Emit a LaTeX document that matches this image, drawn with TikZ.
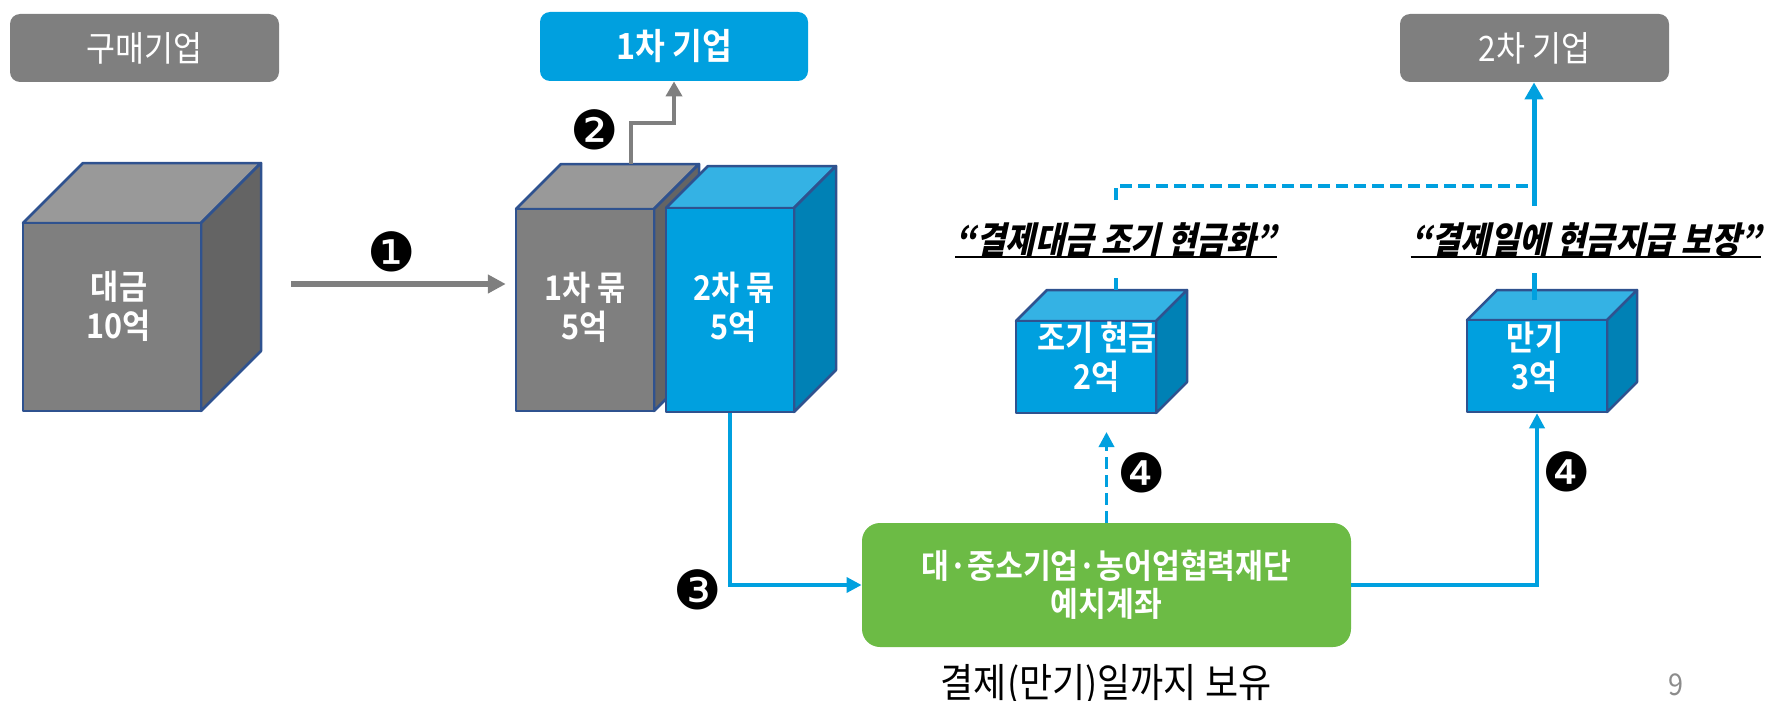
\documentclass[tikz,border=0pt]{standalone}
\usepackage{fontspec}
\setmainfont{Noto Sans CJK KR}[BoldFont={Noto Sans CJK KR Bold}, FakeStretch=0.9]
\newfontfamily\slb{Noto Sans CJK KR Black}[FakeSlant=0.22, FakeStretch=0.88]
\newfontfamily\dv{DejaVu Sans}
\usetikzlibrary{arrows.meta,fit}
\definecolor{cgray}{RGB}{127,127,127}
\definecolor{cgraytop}{RGB}{153,153,153}
\definecolor{cgrayside}{RGB}{100,100,100}
\definecolor{cblue}{RGB}{0,160,223}
\definecolor{cbluetop}{RGB}{52,178,228}
\definecolor{cblueside}{RGB}{0,129,181}
\definecolor{cedge}{RGB}{47,82,143}
\definecolor{cgreen}{RGB}{108,187,69}
\definecolor{cpage}{RGB}{140,140,140}
\tikzset{
  cubeedge/.style={draw=cedge, line width=1.25pt, line join=round},
  topbox/.style={rounded corners=5pt, inner sep=0pt, text=white, font=\fontsize{17.5}{20}\selectfont},
  cubetext/.style={text=white, font=\bfseries\fontsize{17}{19.5}\selectfont, align=center, inner sep=0pt},
  smalltext/.style={text=white, font=\bfseries\fontsize{17}{19.5}\selectfont, align=center, inner sep=0pt},
  slogan/.style={fill=white, inner xsep=0pt, inner ysep=0pt, minimum height=33.5pt, font=\slb\fontsize{18.2}{20}\selectfont},
  num/.style={inner sep=0pt, font=\dv\fontsize{27}{27}\selectfont},
  garrow/.style={draw=cgray, line width=2.75pt, -{Triangle[length=9pt,width=9pt]}},
  garrowb/.style={draw=cgray, line width=2pt, -{Triangle[length=7.5pt,width=8pt]}},
  barrow/.style={draw=cblue, line width=1.75pt, -{Triangle[length=7.5pt,width=7.5pt]}},
  barrowthick/.style={draw=cblue, line width=2.5pt, -{Triangle[length=8.5pt,width=9pt]}},
  bdash/.style={draw=cblue, line width=1.75pt, dash pattern=on 6pt off 3pt},
}
\newcommand\mycube[9]{%
  \filldraw[cubeedge, fill=#8] (#2,#3) -- (#2+#6,#3-#6) -- (#4+#6,#3-#6) -- (#4,#3) -- cycle;
  \filldraw[cubeedge, fill=#9] (#4,#3) -- (#4+#6,#3-#6) -- (#4+#6,#5-#6) -- (#4,#5) -- cycle;
  \node[cubeedge, fill=#7, fit={(#2,#3) (#4,#5)}, inner sep=0pt] (#1) {};
}
\begin{document}
\begin{tikzpicture}[x=0.5pt,y=-0.5pt]
\useasboundingbox (0,0) rectangle (1777,701);

% top boxes
\node[topbox, fill=cgray, minimum width=134.5pt, minimum height=34pt] (buyer) at (144.5,48) {구매기업};
\node[topbox, fill=cblue, minimum width=134pt, minimum height=34.5pt, font=\bfseries\fontsize{18}{20}\selectfont] (first) at (674,46.5) {1차 기업};
\node[topbox, fill=cgray, minimum width=134.5pt, minimum height=34pt] (second) at (1534.5,48) {2차 기업};

% cubes
\mycube{big}{23}{223}{201}{411}{60}{cgray}{cgraytop}{cgrayside}
\mycube{c1}{516}{209}{654}{411}{45}{cgray}{cgraytop}{cgrayside}
\mycube{c2}{666}{208}{794}{412}{42}{cblue}{cbluetop}{cblueside}
\mycube{c3}{1016}{321}{1156}{413}{31}{cblue}{cbluetop}{cblueside}
\mycube{c4}{1467}{320}{1607}{412}{30}{cblue}{cbluetop}{cblueside}

\node[cubetext] (tbig) at (119,306) {대금\\10억};
\node[cubetext] (tc1) at (585,307) {1차 묶\\5억};
\node[cubetext] (tc2) at (734,307) {2차 묶\\5억};
\node[smalltext] (tc3) at (1097,357) {조기 현금\\2억};
\node[smalltext] (tc4) at (1535,357) {만기\\3억};

% green box
\node[rounded corners=9pt, fill=cgreen, minimum width=244.5pt, minimum height=62pt, inner sep=0pt,
      text=white, align=center, font=\bfseries\fontsize{16.8}{19}\selectfont] (green) at (1106.5,585)
      {대·중소기업·농어업협력재단\\예치계좌};

% connectors
\coordinate (a1s) at (291,284);
\draw[garrow] (a1s) -- ([xshift=-4.5pt]a1s -| c1.west);
\coordinate (a2s) at (631,164);
\draw[garrowb] (a2s) -- (631,123) -| (first.south);
\draw[barrow] (c2.south) |- (green.west);
\draw[barrow] (green.east) -| (c4.south);
\coordinate (d4) at (1107,432);
\draw[bdash, -{Triangle[length=7.5pt,width=7.5pt]}] (green.north) -- (green.north |- d4);
\coordinate (c3top) at (1116,290);
\coordinate (c4top) at (1534,300);
\coordinate (join) at (1534,186);
\draw[bdash] (c3top) -- (c3top |- join) -- (join);
\draw[barrowthick] (c4top) -- (c4top |- second.south);

% slogans
\node[slogan] (s1) at (1116,239.5) {“결제대금 조기 현금화”};
\draw[line width=1.1pt] ([yshift=-2pt]s1.base west) -- ([yshift=-2pt]s1.base east);
\node[slogan] (s2) at (1586,239.5) {“결제일에 현금지급 보장”};
\draw[line width=1.1pt] ([yshift=-2pt]s2.base west) -- ([yshift=-2pt]s2.base east);

% numbers
\node[num] (n1) at (392,252) {❶};
\node[num] (n2) at (595,130) {❷};
\node[num] (n3) at (698,590) {❸};
\node[num] (n4a) at (1142,473) {❹};
\node[num] (n4b) at (1567,472) {❹};

\node[font=\fontsize{20}{22}\selectfont, inner sep=0pt] (hold) at (1106,685) {결제(만기)일까지 보유};
\node[font=\fontsize{15}{17}\selectfont, text=cpage, inner sep=0pt] (page) at (1676,685) {9};
\end{tikzpicture}
\end{document}
